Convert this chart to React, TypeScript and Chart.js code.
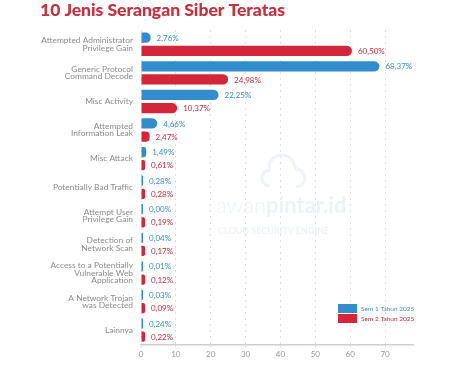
import React, { useEffect, useRef } from "react";
import { Chart, registerables } from "chart.js";

Chart.register(...registerables);

const title = "10 Jenis Serangan Siber Teratas";
const categories: (string | string[])[] = [
  ["Attempted Administrator", "Privilege Gain"],
  ["Generic Protocol", "Command Decode"],
  "Misc Activity",
  ["Attempted", "Information Leak"],
  "Misc Attack",
  "Potentially Bad Traffic",
  ["Attempt User", "Privilege Gain"],
  ["Detection of", "Network Scan"],
  ["Access to a Potentially", "Vulnerable Web", "Application"],
  ["A Network Trojan", "was Detected"],
  "Lainnya",
];
const seriesNames = ["Sem 1 Tahun 2025", "Sem 2 Tahun 2025"];
const sem1 = [2.76, 68.37, 22.25, 4.66, 1.49, 0.28, 0.0, 0.04, 0.01, 0.03, 0.24];
const sem2 = [60.5, 24.98, 10.37, 2.47, 0.61, 0.28, 0.19, 0.17, 0.12, 0.09, 0.22];
const xTicks = [0, 10, 20, 30, 40, 50, 60, 70];

const BLUE = "#338dcd";
const RED = "#d4263a";
const BLUE_TXT = "#3a8fd0";
const RED_TXT = "#cf2a3d";
const FONT = "Lato, 'Open Sans', sans-serif";

const fmt = (v: number) => v.toFixed(2).replace(".", ",") + "%";

export default function App() {
  const ref = useRef<HTMLCanvasElement | null>(null);
  useEffect(() => {
    const canvas = ref.current!;
    const extras = {
      id: "extras",
      beforeDatasetsDraw(chart: any) {
        const ctx = chart.ctx;
        const ca = chart.chartArea;
        ctx.save();
        // watermark
        const cx = ca.left + (ca.right - ca.left) * 0.51;
        ctx.strokeStyle = "#eef3f8";
        ctx.lineWidth = 3;
        ctx.beginPath();
        ctx.arc(cx - 10, 178, 8, Math.PI * 0.5, Math.PI * 1.5);
        ctx.arc(cx + 2, 168, 13, Math.PI * 1.05, Math.PI * 1.9);
        ctx.arc(cx + 16, 178, 9, Math.PI * 1.5, Math.PI * 0.5);
        ctx.stroke();
        ctx.font = `300 22px ${FONT}`;
        ctx.fillStyle = "#edf2f7";
        ctx.textAlign = "left";
        ctx.textBaseline = "alphabetic";
        ctx.fillText("awan", 216, 213);
        const w = ctx.measureText("awan").width;
        ctx.font = `bold 22px ${FONT}`;
        ctx.fillText("pintar.id", 216 + w, 213);
        ctx.font = `bold 9px ${FONT}`;
        ctx.fillStyle = "#eef2f6";
        ctx.fillText("CLOUD SECURITY ENGINE", 218, 234);
        ctx.restore();
      },
      afterDraw(chart: any) {
        const ctx = chart.ctx;
        ctx.save();
        // title
        ctx.font = `900 17.5px ${FONT}`;
        ctx.fillStyle = "#c9303d";
        ctx.textAlign = "left";
        ctx.textBaseline = "alphabetic";
        ctx.fillText(title, 40, 16);
        // value labels
        ctx.font = `8px ${FONT}`;
        ctx.textBaseline = "middle";
        chart.data.datasets.forEach((ds: any, di: number) => {
          const meta = chart.getDatasetMeta(di);
          meta.data.forEach((el: any, i: number) => {
            ctx.fillStyle = di === 0 ? BLUE_TXT : RED_TXT;
            ctx.fillText(fmt(ds.data[i]), el.x + 6, el.y + 0.5);
          });
        });
        // legend
        const lx = 338;
        const ly = 304;
        [BLUE, RED].forEach((c, i) => {
          ctx.fillStyle = c;
          ctx.fillRect(lx, ly + i * 10, 19, 9);
          ctx.fillStyle = i === 0 ? BLUE_TXT : RED_TXT;
          ctx.font = `6.5px ${FONT}`;
          ctx.fillText(seriesNames[i], lx + 23, ly + i * 10 + 4.5);
        });
        ctx.restore();
      },
    };
    const chart = new Chart(canvas, {
      type: "bar",
      data: {
        labels: categories,
        datasets: [
          { label: seriesNames[0], data: sem1, backgroundColor: BLUE, minBarLength: 2 },
          { label: seriesNames[1], data: sem2, backgroundColor: RED, minBarLength: 4 },
        ],
      },
      options: {
        indexAxis: "y",
        animation: false,
        responsive: true,
        maintainAspectRatio: false,
        layout: { padding: { top: 30, right: 41, bottom: 4, left: 0 } },
        datasets: {
          bar: {
            categoryPercentage: 0.92,
            barPercentage: 0.78,
            borderRadius: 6,
            borderSkipped: "start",
          },
        },
        plugins: {
          legend: { display: false },
          title: { display: false },
          tooltip: { enabled: false },
        },
        scales: {
          x: {
            min: 0,
            max: 78,
            afterBuildTicks: (scale: any) => {
              scale.ticks = xTicks.map((v) => ({ value: v }));
            },
            grid: {
              color: "#dedede",
              lineWidth: 1,
              drawTicks: true,
              tickLength: 3,
            },
            border: { display: true, color: "#cfcfcf", width: 1.5, dash: [2, 4] },
            ticks: {
              color: "#9a9a9a",
              font: { size: 8, family: FONT },
              padding: 2,
              callback: (v: any) => String(v),
            },
          },
          y: {
            afterFit: (scale: any) => {
              scale.width = 141;
            },
            grid: { display: false, drawTicks: false },
            border: { display: false },
            ticks: {
              color: "#8c8c8c",
              font: { size: 8.4, family: FONT, lineHeight: 0.86 },
              padding: 8,
            },
          },
        },
      },
      plugins: [extras],
    } as any);
    return () => chart.destroy();
  }, []);
  return (
    <div style={{ position: "fixed", left: 0, top: 0, width: 454, height: 365, background: "#fff" }}>
      <canvas ref={ref} />
    </div>
  );
}
